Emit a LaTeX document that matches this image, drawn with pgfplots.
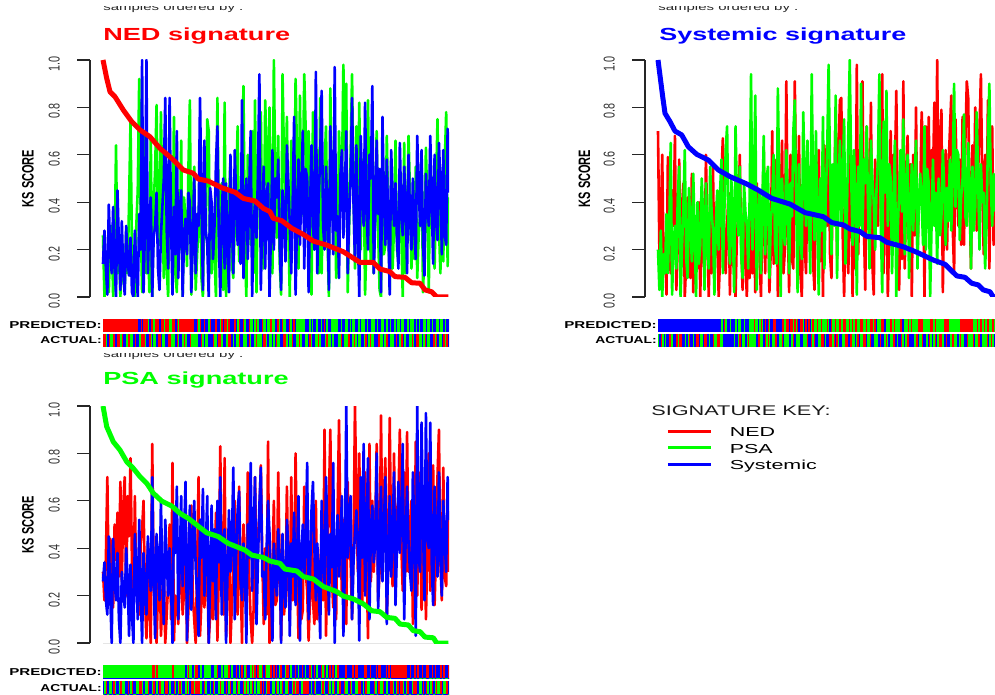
\documentclass[border=0pt]{standalone}
\usepackage{pgfplots}
\usepackage{pgfplotstable}
\usepackage{fontspec}
\setmainfont{Liberation Sans}
\pgfplotsset{compat=1.18}
\definecolor{g}{rgb}{0,1,0}
\definecolor{r}{rgb}{1,0,0}
\definecolor{b}{rgb}{0,0,1}
% noisy series, one column each
\pgfplotstableread[row sep=\\]{
0.26\\0.00\\0.12\\0.18\\0.02\\0.22\\0.30\\0.00\\0.15\\0.64\\0.10\\0.25\\0.00\\0.24\\0.08\\0.03\\0.28\\0.10\\0.40\\0.74\\0.20\\0.12\\0.00\\0.30\\0.45\\0.92\\0.35\\0.02\\0.68\\0.15\\0.10\\0.30\\0.02\\0.68\\0.00\\0.38\\0.54\\0.81\\0.26\\0.22\\0.78\\0.40\\0.08\\0.50\\0.12\\0.00\\0.60\\0.30\\0.18\\0.76\\0.10\\0.02\\0.45\\0.20\\0.66\\0.00\\0.42\\0.32\\0.13\\0.55\\0.83\\0.01\\0.34\\0.55\\0.03\\0.18\\0.30\\0.60\\0.08\\0.00\\0.44\\0.25\\0.75\\0.70\\0.12\\0.10\\0.32\\0.18\\0.00\\0.84\\0.30\\0.25\\0.48\\0.03\\0.82\\0.00\\0.22\\0.40\\0.58\\0.14\\0.08\\0.30\\0.50\\0.72\\0.15\\0.36\\0.52\\0.89\\0.20\\0.00\\0.60\\0.44\\0.22\\0.70\\0.10\\0.83\\0.02\\0.56\\0.46\\0.78\\0.25\\0.12\\0.83\\0.62\\0.30\\0.80\\0.38\\0.10\\1.00\\0.48\\0.25\\0.68\\0.15\\0.01\\0.94\\0.58\\0.40\\0.76\\0.28\\0.00\\0.66\\0.45\\0.30\\0.92\\0.60\\0.12\\0.85\\0.34\\0.48\\0.94\\0.70\\0.28\\0.70\\0.52\\0.01\\0.78\\0.20\\0.35\\0.62\\0.10\\0.84\\0.10\\0.46\\0.55\\0.72\\0.26\\0.00\\0.88\\0.40\\0.30\\0.64\\0.08\\0.15\\0.70\\0.50\\0.48\\0.98\\0.62\\0.90\\0.02\\0.30\\0.60\\0.94\\0.44\\0.12\\0.72\\0.36\\0.82\\0.20\\0.58\\0.55\\0.01\\0.25\\0.83\\0.35\\0.14\\0.62\\0.10\\0.40\\0.70\\0.28\\0.03\\0.00\\0.58\\0.18\\0.22\\0.68\\0.34\\0.03\\0.42\\0.12\\0.30\\0.66\\0.20\\0.15\\0.52\\0.28\\0.00\\0.65\\0.10\\0.30\\0.68\\0.44\\0.12\\0.40\\0.16\\0.55\\0.08\\0.26\\0.35\\0.60\\0.02\\0.20\\0.63\\0.38\\0.02\\0.62\\0.40\\0.28\\0.12\\0.46\\0.75\\0.30\\0.10\\0.48\\0.15\\0.56\\0.78\\0.13\\0.42\\
}\GOne
\pgfplotstableread[row sep=\\]{
0.14\\0.28\\0.12\\0.01\\0.39\\0.20\\0.10\\0.38\\0.14\\0.00\\0.45\\0.22\\0.03\\0.32\\0.10\\0.01\\0.30\\0.15\\0.09\\0.25\\0.02\\0.00\\0.28\\0.12\\0.00\\0.35\\0.20\\1.00\\0.02\\0.30\\1.00\\0.10\\0.34\\0.42\\0.00\\0.25\\0.30\\0.44\\0.12\\0.03\\0.26\\0.38\\0.50\\0.84\\0.28\\0.12\\0.84\\0.30\\0.01\\0.38\\0.18\\0.70\\0.08\\0.36\\0.45\\0.00\\0.26\\0.33\\0.18\\0.44\\0.40\\0.02\\0.22\\0.52\\0.10\\0.35\\0.30\\0.84\\0.42\\0.03\\0.66\\0.28\\0.22\\0.00\\0.46\\0.40\\0.16\\0.30\\0.56\\0.72\\0.24\\0.00\\0.35\\0.50\\0.12\\0.48\\0.20\\0.02\\0.60\\0.34\\0.10\\0.62\\0.40\\0.22\\0.45\\0.14\\0.83\\0.08\\0.38\\0.50\\0.16\\0.46\\0.70\\0.00\\0.30\\0.40\\0.25\\0.52\\0.94\\0.03\\0.34\\0.55\\0.12\\0.44\\0.48\\0.00\\0.28\\0.62\\0.20\\0.50\\0.42\\0.58\\0.22\\0.03\\0.45\\0.36\\0.15\\0.64\\0.48\\0.30\\0.10\\0.40\\0.76\\0.01\\0.32\\0.58\\0.22\\0.46\\0.70\\0.12\\0.54\\0.50\\0.02\\0.38\\0.64\\0.30\\0.20\\0.95\\0.10\\0.42\\0.60\\0.87\\0.30\\0.20\\0.55\\0.36\\0.03\\0.72\\0.48\\0.18\\0.97\\0.28\\0.34\\0.08\\0.52\\0.62\\0.25\\0.44\\0.70\\0.10\\0.34\\0.50\\0.84\\0.40\\0.15\\0.64\\0.26\\0.00\\0.68\\0.46\\0.30\\0.82\\0.38\\0.20\\0.60\\0.50\\0.89\\0.10\\0.32\\0.66\\0.35\\0.54\\0.02\\0.76\\0.42\\0.22\\0.58\\0.30\\0.01\\0.62\\0.44\\0.30\\0.48\\0.24\\0.12\\0.65\\0.36\\0.26\\0.55\\0.40\\0.10\\0.60\\0.34\\0.20\\0.50\\0.28\\0.16\\0.68\\0.46\\0.30\\0.62\\0.22\\0.09\\0.52\\0.38\\0.30\\0.68\\0.42\\0.14\\0.60\\0.32\\0.24\\0.65\\0.48\\0.18\\0.62\\0.26\\0.22\\0.71\\0.44\\
}\BOne
\pgfplotstableread[row sep=\\]{
0.70\\0.18\\0.32\\0.60\\0.12\\0.25\\0.01\\0.59\\0.20\\0.10\\0.45\\0.30\\0.68\\0.03\\0.22\\0.58\\0.14\\0.38\\0.48\\0.00\\0.15\\0.42\\0.22\\0.08\\0.52\\0.02\\0.28\\0.32\\0.12\\0.40\\0.00\\0.45\\0.18\\0.10\\0.60\\0.26\\0.00\\0.38\\0.10\\0.55\\0.08\\0.30\\0.42\\0.00\\0.16\\0.52\\0.67\\0.20\\0.10\\0.30\\0.44\\0.01\\0.45\\0.14\\0.12\\0.00\\0.28\\0.34\\0.60\\0.22\\0.03\\0.40\\0.16\\0.00\\0.28\\0.08\\0.55\\0.10\\0.36\\0.02\\0.48\\0.24\\0.18\\0.00\\0.30\\0.62\\0.10\\0.42\\0.35\\0.02\\0.20\\0.70\\0.14\\0.34\\0.58\\0.00\\0.26\\0.40\\0.66\\0.10\\0.20\\0.91\\0.32\\0.02\\0.60\\0.16\\0.12\\0.91\\0.44\\0.28\\0.68\\0.10\\0.00\\0.42\\0.22\\0.10\\0.55\\0.36\\0.20\\0.72\\0.14\\0.03\\0.45\\0.28\\0.62\\0.15\\0.50\\0.00\\0.64\\0.34\\0.30\\0.78\\0.18\\0.08\\0.52\\0.42\\0.80\\0.16\\0.60\\0.83\\0.84\\0.26\\0.00\\0.38\\0.20\\0.10\\0.66\\0.44\\0.00\\0.44\\0.12\\0.98\\0.18\\0.50\\0.60\\0.91\\0.30\\0.03\\0.72\\0.46\\0.25\\0.82\\0.14\\0.01\\0.58\\0.36\\0.30\\0.76\\0.54\\0.94\\0.10\\0.40\\0.46\\0.00\\0.28\\0.70\\0.20\\0.60\\0.52\\0.87\\0.34\\0.03\\0.40\\0.16\\0.91\\0.12\\0.48\\0.68\\0.30\\0.56\\0.00\\0.60\\0.26\\0.80\\0.15\\0.44\\0.45\\0.78\\0.58\\0.00\\0.72\\0.38\\0.76\\0.24\\0.62\\0.50\\0.82\\0.34\\1.00\\0.30\\0.64\\0.79\\0.02\\0.42\\0.62\\0.20\\0.54\\0.70\\0.85\\0.30\\0.10\\0.75\\0.48\\0.30\\0.58\\0.22\\0.76\\0.22\\0.66\\0.91\\0.84\\0.40\\0.12\\0.64\\0.36\\0.80\\0.28\\0.52\\0.70\\0.94\\0.46\\0.18\\0.60\\0.30\\0.83\\0.12\\0.56\\0.72\\0.22\\0.48\\
}\RTwo
\pgfplotstableread[row sep=\\]{
0.20\\0.03\\0.28\\0.00\\0.18\\0.10\\0.35\\0.10\\0.30\\0.65\\0.01\\0.22\\0.30\\0.12\\0.42\\0.55\\0.00\\0.20\\0.38\\0.62\\0.16\\0.08\\0.46\\0.30\\0.15\\0.52\\0.26\\0.00\\0.40\\0.14\\0.22\\0.50\\0.34\\0.03\\0.48\\0.22\\0.12\\0.55\\0.36\\0.28\\0.01\\0.30\\0.45\\0.20\\0.44\\0.58\\0.10\\0.34\\0.62\\0.72\\0.26\\0.14\\0.50\\0.32\\0.02\\0.72\\0.40\\0.26\\0.55\\0.18\\0.08\\0.48\\0.36\\0.30\\0.12\\0.42\\0.94\\0.20\\0.46\\0.85\\0.03\\0.30\\0.44\\0.10\\0.38\\0.68\\0.18\\0.50\\0.55\\0.08\\0.32\\0.40\\0.60\\0.22\\0.14\\0.88\\0.48\\0.00\\0.50\\0.28\\0.22\\0.62\\0.44\\0.10\\0.48\\0.34\\0.70\\0.83\\0.40\\0.02\\0.56\\0.26\\0.16\\0.78\\0.50\\0.30\\0.66\\0.36\\0.10\\0.94\\0.46\\0.24\\0.70\\0.32\\0.01\\0.50\\0.28\\0.76\\0.12\\0.42\\0.62\\0.98\\0.54\\0.18\\0.56\\0.30\\0.85\\0.08\\0.44\\0.66\\0.30\\0.48\\0.75\\0.14\\0.36\\0.70\\1.00\\0.52\\0.22\\0.62\\0.42\\0.01\\0.55\\0.30\\0.90\\0.26\\0.58\\0.48\\0.72\\0.36\\0.12\\0.66\\0.50\\0.40\\0.20\\0.46\\0.58\\0.94\\0.32\\0.02\\0.74\\0.44\\0.87\\0.30\\0.56\\0.50\\0.10\\0.38\\0.66\\0.00\\0.28\\0.44\\0.62\\0.36\\0.75\\0.18\\0.46\\0.60\\0.08\\0.34\\0.56\\0.28\\0.50\\0.66\\0.12\\0.40\\0.52\\0.40\\0.22\\0.72\\0.20\\0.54\\0.48\\0.00\\0.30\\0.58\\0.30\\0.44\\0.14\\0.50\\0.26\\0.34\\0.62\\0.46\\0.22\\0.46\\0.32\\0.58\\0.28\\0.50\\0.90\\0.38\\0.62\\0.60\\0.24\\0.42\\0.50\\0.77\\0.34\\0.30\\0.65\\0.46\\0.12\\0.55\\0.28\\0.38\\0.78\\0.52\\0.20\\0.56\\0.40\\0.44\\0.12\\0.30\\0.66\\0.90\\0.48\\0.30\\0.52\\0.36\\
}\GTwo
\pgfplotstableread[row sep=\\]{
0.30\\0.18\\0.36\\0.70\\0.22\\0.44\\0.40\\0.15\\0.50\\0.35\\0.55\\0.28\\0.68\\0.26\\0.58\\0.70\\0.20\\0.62\\0.45\\0.78\\0.34\\0.10\\0.62\\0.24\\0.30\\0.12\\0.42\\0.48\\0.60\\0.18\\0.02\\0.42\\0.14\\0.00\\0.84\\0.26\\0.15\\0.00\\0.22\\0.40\\0.03\\0.16\\0.30\\0.00\\0.12\\0.25\\0.50\\0.10\\0.76\\0.01\\0.20\\0.18\\0.08\\0.28\\0.40\\0.12\\0.22\\0.62\\0.00\\0.14\\0.28\\0.58\\0.20\\0.10\\0.00\\0.32\\0.70\\0.03\\0.18\\0.44\\0.15\\0.26\\0.32\\0.00\\0.12\\0.36\\0.10\\0.24\\0.55\\0.01\\0.30\\0.83\\0.20\\0.12\\0.78\\0.03\\0.28\\0.44\\0.00\\0.16\\0.35\\0.60\\0.22\\0.12\\0.66\\0.30\\0.00\\0.50\\0.18\\0.22\\0.72\\0.26\\0.10\\0.00\\0.14\\0.70\\0.28\\0.40\\0.55\\0.75\\0.36\\0.08\\0.40\\0.12\\0.85\\0.00\\0.22\\0.30\\0.60\\0.16\\0.18\\0.72\\0.34\\0.01\\0.36\\0.12\\0.20\\0.66\\0.24\\0.10\\0.70\\0.18\\0.25\\0.80\\0.34\\0.02\\0.42\\0.10\\0.14\\0.66\\0.30\\0.22\\0.01\\0.20\\0.52\\0.18\\0.08\\0.60\\0.10\\0.26\\0.32\\0.45\\0.18\\0.90\\0.03\\0.36\\0.60\\0.90\\0.28\\0.15\\0.40\\0.10\\0.55\\0.94\\0.46\\0.20\\0.52\\0.24\\0.08\\0.68\\0.36\\0.35\\0.10\\0.40\\1.00\\0.62\\0.30\\0.80\\0.22\\0.16\\0.48\\0.72\\0.38\\0.02\\0.84\\0.26\\0.60\\0.30\\0.48\\0.84\\0.18\\0.30\\0.96\\0.35\\0.62\\0.78\\0.10\\0.34\\0.95\\0.40\\0.24\\0.80\\0.26\\0.56\\0.60\\0.90\\0.42\\0.22\\0.72\\0.30\\0.89\\0.30\\0.46\\0.60\\0.08\\0.20\\0.85\\0.20\\0.50\\0.72\\0.14\\0.30\\0.64\\0.10\\0.38\\0.80\\0.22\\0.44\\0.75\\0.16\\0.40\\0.70\\0.90\\0.34\\0.18\\0.74\\0.28\\0.24\\0.57\\0.30\\
}\RThree
\pgfplotstableread[row sep=\\]{
0.26\\0.34\\0.18\\0.12\\0.45\\0.20\\0.00\\0.44\\0.26\\0.18\\0.38\\0.10\\0.00\\0.30\\0.22\\0.15\\0.40\\0.28\\0.03\\0.33\\0.12\\0.00\\0.46\\0.30\\0.10\\0.52\\0.24\\0.00\\0.38\\0.20\\0.12\\0.45\\0.32\\0.22\\0.70\\0.26\\0.02\\0.46\\0.34\\0.18\\0.60\\0.28\\0.08\\0.52\\0.36\\0.20\\0.40\\0.24\\0.00\\0.56\\0.38\\0.66\\0.10\\0.34\\0.62\\0.24\\0.46\\0.68\\0.01\\0.30\\0.58\\0.14\\0.42\\0.60\\0.32\\0.20\\0.03\\0.52\\0.36\\0.65\\0.20\\0.40\\0.62\\0.00\\0.28\\0.58\\0.26\\0.48\\0.10\\0.60\\0.34\\0.70\\0.12\\0.44\\0.48\\0.00\\0.30\\0.56\\0.30\\0.42\\0.74\\0.10\\0.38\\0.56\\0.64\\0.26\\0.18\\0.42\\0.32\\0.00\\0.50\\0.36\\0.76\\0.22\\0.46\\0.70\\0.08\\0.34\\0.58\\0.74\\0.28\\0.30\\0.10\\0.40\\0.60\\0.46\\0.24\\0.01\\0.42\\0.30\\0.20\\0.48\\0.36\\0.00\\0.46\\0.22\\0.15\\0.52\\0.40\\0.03\\0.42\\0.28\\0.55\\0.16\\0.34\\0.62\\0.01\\0.38\\0.50\\0.28\\0.44\\0.76\\0.10\\0.30\\0.56\\0.68\\0.40\\0.18\\0.42\\0.26\\0.02\\0.60\\0.34\\0.24\\0.70\\0.46\\0.12\\0.46\\0.32\\0.76\\0.00\\0.38\\0.54\\0.28\\0.44\\0.62\\0.03\\0.30\\1.00\\0.36\\0.50\\0.62\\0.10\\0.34\\0.46\\0.56\\0.40\\0.01\\0.70\\0.36\\0.84\\0.20\\0.44\\0.78\\0.10\\0.48\\0.58\\0.34\\0.42\\0.80\\0.14\\0.38\\0.66\\0.26\\0.50\\0.70\\0.08\\0.36\\0.62\\0.28\\0.46\\0.72\\0.16\\0.40\\0.68\\0.38\\0.54\\0.84\\0.10\\0.44\\0.66\\0.42\\0.30\\0.22\\0.72\\0.48\\0.03\\1.00\\0.36\\0.30\\0.93\\0.50\\0.18\\0.97\\0.44\\0.40\\0.93\\0.34\\0.16\\0.66\\0.46\\0.28\\0.72\\0.38\\0.20\\0.60\\0.42\\0.30\\0.70\\0.52\\
}\BThree
% colour strips: 0 red, 1 green, 2 blue
\pgfplotstableread[row sep=\\]{
0\\0\\0\\0\\0\\0\\0\\0\\0\\0\\0\\0\\0\\0\\0\\0\\0\\0\\0\\0\\0\\0\\0\\0\\2\\2\\0\\2\\0\\0\\0\\1\\2\\0\\0\\1\\0\\0\\0\\2\\0\\0\\1\\0\\0\\0\\1\\1\\0\\0\\2\\0\\1\\0\\0\\0\\0\\0\\0\\0\\0\\0\\0\\2\\2\\0\\1\\0\\2\\2\\0\\2\\2\\1\\0\\2\\2\\2\\0\\2\\2\\1\\0\\2\\0\\0\\1\\0\\2\\2\\2\\0\\2\\1\\0\\2\\2\\0\\1\\2\\2\\0\\1\\1\\2\\1\\0\\1\\2\\2\\0\\1\\1\\2\\1\\1\\0\\1\\1\\2\\2\\0\\1\\2\\0\\1\\1\\2\\2\\0\\1\\2\\0\\2\\1\\1\\1\\1\\1\\1\\2\\2\\2\\1\\2\\1\\2\\2\\1\\2\\2\\1\\2\\0\\2\\1\\2\\2\\1\\1\\1\\1\\1\\2\\2\\1\\2\\2\\1\\1\\2\\1\\2\\1\\1\\2\\2\\1\\2\\1\\1\\1\\2\\1\\2\\2\\1\\1\\1\\2\\1\\2\\2\\1\\1\\2\\1\\1\\2\\1\\2\\2\\1\\2\\1\\1\\2\\1\\1\\2\\2\\1\\2\\1\\1\\1\\2\\1\\2\\1\\2\\2\\1\\1\\2\\1\\1\\2\\1\\2\\2\\1\\1\\2\\1\\1\\2\\1\\2\\2\\1\\2\\1\\1\\
}\SPOne
\pgfplotstableread[row sep=\\]{
0\\0\\1\\2\\0\\1\\1\\0\\2\\2\\0\\0\\1\\0\\2\\2\\1\\0\\0\\1\\1\\2\\0\\2\\2\\1\\0\\0\\0\\1\\2\\2\\0\\1\\2\\1\\1\\2\\0\\0\\2\\1\\1\\2\\2\\0\\0\\1\\1\\1\\2\\0\\1\\2\\2\\1\\0\\1\\2\\2\\0\\1\\1\\1\\1\\1\\2\\2\\0\\1\\2\\1\\1\\2\\2\\2\\0\\1\\1\\2\\0\\0\\1\\2\\2\\1\\1\\0\\0\\2\\1\\2\\1\\1\\0\\2\\2\\1\\1\\1\\2\\0\\1\\2\\2\\1\\0\\1\\1\\1\\2\\0\\0\\1\\2\\1\\1\\2\\1\\2\\0\\1\\1\\2\\2\\0\\0\\1\\2\\1\\1\\0\\2\\2\\1\\1\\0\\1\\2\\2\\1\\1\\2\\0\\1\\2\\2\\1\\1\\0\\1\\2\\2\\2\\1\\0\\1\\1\\2\\1\\2\\2\\2\\1\\1\\0\\2\\1\\1\\1\\0\\2\\2\\1\\0\\1\\2\\1\\1\\2\\2\\1\\0\\2\\1\\0\\1\\1\\2\\2\\2\\0\\1\\1\\2\\1\\0\\0\\2\\1\\1\\1\\2\\0\\2\\1\\1\\0\\2\\1\\2\\2\\1\\1\\0\\1\\2\\0\\0\\1\\1\\2\\1\\0\\2\\1\\1\\2\\2\\0\\1\\0\\2\\1\\1\\2\\0\\1\\0\\2\\0\\1\\
}\SAOne
\pgfplotstableread[row sep=\\]{
2\\2\\2\\2\\2\\2\\2\\2\\2\\2\\2\\2\\2\\2\\2\\2\\2\\2\\2\\2\\2\\2\\2\\2\\2\\2\\2\\2\\2\\2\\2\\2\\2\\2\\2\\2\\2\\2\\2\\2\\2\\2\\2\\2\\2\\1\\2\\0\\1\\2\\2\\1\\2\\2\\2\\1\\2\\1\\1\\2\\2\\1\\2\\2\\2\\1\\1\\1\\0\\1\\1\\2\\1\\0\\1\\2\\0\\2\\0\\1\\2\\2\\0\\0\\2\\2\\2\\2\\0\\0\\1\\0\\0\\2\\0\\0\\1\\0\\1\\0\\2\\0\\0\\1\\2\\0\\2\\0\\2\\1\\0\\1\\1\\0\\1\\1\\0\\1\\1\\1\\0\\1\\2\\0\\1\\1\\0\\1\\1\\0\\1\\1\\0\\0\\1\\1\\0\\1\\0\\1\\0\\0\\1\\1\\0\\0\\1\\1\\0\\1\\1\\0\\0\\1\\0\\2\\1\\1\\1\\0\\0\\2\\1\\1\\1\\0\\0\\1\\0\\1\\1\\1\\0\\0\\2\\1\\1\\1\\0\\1\\0\\1\\1\\1\\1\\0\\0\\0\\0\\1\\1\\1\\1\\1\\0\\0\\1\\0\\1\\1\\1\\1\\1\\1\\0\\0\\0\\1\\1\\1\\1\\1\\1\\1\\1\\0\\0\\0\\0\\0\\0\\0\\0\\0\\1\\1\\1\\0\\1\\0\\0\\1\\0\\1\\0\\0\\1\\1\\0\\1\\0\\1\\0\\
}\SPTwo
\pgfplotstableread[row sep=\\]{
1\\2\\0\\1\\2\\1\\2\\2\\0\\1\\1\\2\\2\\0\\1\\0\\0\\2\\2\\1\\2\\1\\0\\2\\2\\1\\2\\0\\0\\2\\1\\1\\2\\0\\0\\2\\1\\2\\2\\0\\1\\1\\0\\0\\1\\1\\2\\2\\2\\2\\2\\2\\2\\2\\1\\2\\2\\1\\0\\2\\1\\1\\2\\1\\0\\1\\1\\1\\1\\1\\2\\0\\0\\1\\1\\2\\0\\1\\0\\1\\2\\1\\1\\0\\0\\2\\1\\1\\0\\2\\1\\1\\1\\2\\2\\1\\0\\2\\1\\1\\1\\2\\2\\1\\1\\1\\0\\2\\2\\0\\1\\0\\2\\2\\1\\1\\0\\0\\2\\1\\2\\2\\0\\0\\1\\0\\2\\0\\1\\2\\2\\1\\1\\0\\0\\2\\2\\0\\1\\1\\2\\1\\0\\2\\1\\1\\0\\0\\2\\1\\1\\0\\2\\2\\1\\1\\1\\2\\0\\2\\2\\1\\0\\1\\2\\1\\1\\0\\0\\2\\1\\2\\2\\0\\1\\2\\1\\0\\0\\2\\2\\2\\1\\1\\0\\2\\1\\1\\0\\2\\2\\1\\2\\0\\1\\2\\1\\0\\2\\1\\0\\0\\1\\1\\2\\0\\2\\2\\1\\0\\0\\1\\1\\2\\1\\0\\1\\1\\2\\2\\0\\1\\1\\1\\0\\2\\1\\1\\0\\2\\2\\1\\1\\1\\0\\2\\1\\0\\1\\2\\1\\2\\
}\SATwo
\pgfplotstableread[row sep=\\]{
1\\1\\1\\1\\1\\1\\1\\1\\1\\1\\1\\1\\1\\1\\1\\1\\1\\1\\1\\1\\1\\1\\1\\1\\1\\1\\1\\1\\1\\1\\1\\1\\1\\1\\0\\0\\1\\0\\1\\1\\1\\1\\1\\1\\1\\1\\1\\1\\0\\1\\1\\1\\1\\1\\1\\1\\1\\2\\1\\0\\1\\1\\2\\1\\0\\0\\2\\1\\1\\2\\1\\1\\1\\1\\1\\2\\2\\1\\1\\0\\2\\2\\1\\2\\1\\1\\1\\0\\2\\1\\2\\2\\0\\2\\1\\2\\0\\2\\1\\0\\2\\2\\1\\0\\1\\0\\2\\0\\1\\1\\0\\2\\0\\1\\1\\1\\0\\2\\0\\2\\0\\2\\1\\0\\2\\2\\1\\0\\0\\2\\1\\2\\2\\0\\2\\1\\2\\2\\0\\2\\1\\2\\2\\0\\1\\2\\0\\2\\1\\2\\2\\0\\1\\0\\2\\1\\2\\0\\2\\0\\2\\1\\0\\0\\2\\2\\2\\2\\0\\2\\2\\2\\2\\0\\2\\0\\0\\2\\2\\2\\2\\0\\0\\2\\2\\0\\2\\2\\2\\0\\2\\0\\0\\2\\2\\2\\0\\2\\0\\2\\0\\0\\0\\0\\0\\0\\0\\0\\0\\0\\0\\2\\2\\0\\2\\2\\0\\2\\0\\2\\2\\0\\2\\2\\0\\0\\2\\2\\0\\2\\0\\2\\2\\2\\0\\2\\0\\2\\2\\0\\2\\2\\2\\
}\SPThree
\pgfplotstableread[row sep=\\]{
2\\1\\0\\2\\1\\1\\2\\0\\1\\2\\2\\1\\0\\1\\1\\2\\2\\0\\2\\1\\0\\2\\2\\1\\1\\0\\0\\1\\2\\1\\1\\0\\2\\2\\1\\0\\2\\1\\2\\0\\1\\1\\2\\0\\0\\2\\1\\2\\2\\0\\1\\2\\1\\0\\1\\2\\2\\1\\0\\1\\2\\0\\0\\1\\0\\0\\0\\1\\1\\2\\0\\1\\2\\2\\1\\2\\0\\1\\2\\2\\1\\0\\1\\1\\2\\0\\2\\1\\0\\2\\1\\1\\2\\0\\1\\2\\2\\0\\1\\0\\1\\2\\1\\0\\2\\1\\2\\1\\1\\0\\2\\0\\2\\1\\0\\0\\2\\1\\1\\2\\0\\1\\2\\1\\0\\2\\1\\1\\0\\2\\2\\1\\0\\1\\0\\0\\2\\1\\1\\0\\0\\0\\0\\2\\1\\2\\0\\1\\2\\2\\2\\1\\0\\1\\2\\2\\0\\1\\2\\1\\0\\2\\1\\1\\0\\2\\2\\0\\1\\1\\2\\0\\1\\2\\2\\1\\1\\0\\0\\2\\1\\2\\0\\1\\1\\2\\2\\2\\0\\1\\2\\0\\1\\1\\0\\2\\1\\1\\2\\0\\0\\1\\2\\1\\0\\2\\0\\0\\1\\2\\1\\0\\2\\2\\1\\0\\0\\0\\2\\1\\1\\2\\0\\2\\0\\1\\2\\1\\0\\2\\1\\0\\1\\1\\0\\2\\1\\1\\0\\2\\1\\0\\
}\SAThree

\pgfplotsset{
  ks/.style={
    scale only axis, clip=true, height=237pt,
    ymin=0, ymax=1, axis y line=left, axis x line=none,
    y axis line style={-, line width=1.4pt, black!85},
    ytick={0,0.2,0.4,0.6,0.8,1},
    yticklabels={0.0,0.2,0.4,0.6,0.8,1.0},
    xtick=\empty, tick align=outside, major tick length=13pt,
    ytick style={line width=1.1pt, black!85},
    yticklabel style={font=\fontsize{10.8}{12}\selectfont, black!80, xscale=1.45, rotate=90, anchor=south, inner sep=0pt, xshift=-4pt, yshift=11.7pt},
    ylabel={\textbf{KS SCORE}},
    ylabel style={at={(axis description cs:-0.173,0.5)}, anchor=center, rotate=-90, xscale=1.5, rotate=90, font=\fontsize{11}{12}\selectfont, inner sep=0pt},
  },
  noisy/.style={line width=2.6pt, line join=round, no marks},
  curve/.style={line width=5pt, line join=round, no marks},
  base/.style={line width=0.8pt, black!10, no marks},
}
\newcommand{\strip}[5]{%
  \begin{axis}[scale only axis, hide axis, at={(#1pt,#2pt)}, anchor=south west,
    width=#3pt, height=13pt, xmin=0, xmax=240, ymin=0, ymax=1, clip=true]
    \addplot[ycomb, no marks, line width=#5pt, r] table[x index=0, y index=0, x expr=\coordindex+0.5, y expr={\thisrowno{0}==0?1:-1}] {#4};
    \addplot[ycomb, no marks, line width=#5pt, g] table[x index=0, y index=0, x expr=\coordindex+0.5, y expr={\thisrowno{0}==1?1:-1}] {#4};
    \addplot[ycomb, no marks, line width=#5pt, b] table[x index=0, y index=0, x expr=\coordindex+0.5, y expr={\thisrowno{0}==2?1:-1}] {#4};
  \end{axis}}
\newcommand{\wide}[2]{\scalebox{#1}[1]{#2}}
\begin{document}
\begin{tikzpicture}[x=1pt,y=1pt]
\useasboundingbox (0,0) rectangle (995,694);
\clip (0,0) rectangle (995,694);
% ---------- NED
\begin{axis}[ks, at={(90pt,397pt)}, anchor=south west, width=359pt, xmin=-13, xmax=346,
  title={\textbf{NED signature}},
  title style={at={(axis description cs:0.0362,1.059)}, anchor=base west, r, xscale=1.55, font=\fontsize{17.5}{18}\selectfont, inner sep=0pt}]
  \addplot[base] coordinates {(0,0)(346,0)};
  \addplot[noisy,g] table[x expr=\coordindex*1.448, y index=0] {\GOne};
  \addplot[noisy,b] table[x expr=\coordindex*1.448, y index=0] {\BOne};
  \addplot[curve,r] coordinates {(0,1.0)(3.7,.923)(7,.866)(12,.845)(20.3,.789)(28.7,.74)(37,.705)(47,.676)(57,.627)(68.7,.585)(80.3,.536)(90.3,.522)(95.3,.498)(105.3,.489)(118.7,.461)(132,.442)(140.3,.416)(152,.405)(160.3,.374)(167,.36)(170.3,.332)(178.7,.322)(188.7,.29)(200.3,.264)(210.3,.236)(223.7,.219)(240.3,.191)(257,.146)(270.3,.146)(277,.118)(287,.107)(292,.086)(302,.083)(308.7,.06)(317,.058)(322,.03)(328.7,.022)(333.7,0)(345.3,0)};
\end{axis}
% ---------- Systemic
\begin{axis}[ks, at={(645pt,397pt)}, anchor=south west, width=350pt, xmin=-13, xmax=337,
  title={\textbf{Systemic signature}},
  title style={at={(axis description cs:0.04,1.059)}, anchor=base west, b, xscale=1.54, font=\fontsize{17.5}{18}\selectfont, inner sep=0pt}]
  \addplot[base] coordinates {(0,0)(337,0)};
  \addplot[noisy,r] table[x expr=\coordindex*1.41, y index=0] {\RTwo};
  \addplot[noisy,g] table[x expr=\coordindex*1.41, y index=0] {\GTwo};
  \addplot[curve,b] coordinates {(0,1.0)(4.7,.845)(7,.775)(12,.74)(17,.70)(23.7,.684)(30.3,.634)(38.7,.602)(50.3,.578)(60.3,.536)(72,.508)(88.7,.477)(100.3,.451)(113.7,.416)(132,.392)(147,.356)(165.3,.339)(173.7,.314)(185.3,.304)(192,.287)(202,.276)(208.7,.256)(222,.25)(228.7,.231)(245.3,.212)(258.7,.189)(275.3,.156)(287,.138)(298.7,.089)(307,.083)(313.7,.058)(320.3,.051)(325.3,.03)(332,.022)(335.3,0)(337,0)};
\end{axis}
% ---------- PSA
\begin{axis}[ks, at={(90pt,51pt)}, anchor=south west, width=359pt, xmin=-13, xmax=346,
  title={\textbf{PSA signature}},
  title style={at={(axis description cs:0.0362,1.0675)}, anchor=base west, g, xscale=1.55, font=\fontsize{17.5}{18}\selectfont, inner sep=0pt}]
  \addplot[base] coordinates {(0,0)(346,0)};
  \addplot[noisy,r] table[x expr=\coordindex*1.448, y index=0] {\RThree};
  \addplot[noisy,b] table[x expr=\coordindex*1.448, y index=0] {\BThree};
  \addplot[curve,g] coordinates {(0,1.0)(3.7,.913)(10.3,.849)(17,.814)(23.7,.765)(30.3,.737)(37,.702)(43.7,.674)(50.3,.632)(58.7,.599)(68.7,.578)(77,.547)(85.3,.526)(93.7,.498)(103.7,.465)(115.3,.449)(125.3,.42)(142,.392)(148.7,.371)(160.3,.361)(167,.346)(177,.336)(182,.312)(193.7,.304)(200.3,.28)(210.3,.27)(220.3,.238)(233.7,.217)(240.3,.198)(250.3,.186)(260.3,.165)(268.7,.136)(277,.132)(283.7,.108)(292,.104)(297,.08)(305.3,.076)(310.3,.052)(317,.048)(322,.025)(330.3,.022)(333.7,0)(345.3,0)};
\end{axis}
% ---------- strips
\strip{103}{362}{346}{\SPOne}{1.5}
\strip{103}{347}{346}{\SAOne}{1.5}
\strip{658}{362}{337}{\SPTwo}{1.46}
\strip{658}{347}{337}{\SATwo}{1.46}
\strip{103}{16}{346}{\SPThree}{1.5}
\strip{103}{0}{346}{\SAThree}{1.5}
% ---------- clipped captions
\foreach \x/\y in {103/683.5, 658/683.5, 103/336.5}
  \node[anchor=base west, inner sep=0pt, xscale=1.5, font=\fontsize{10}{11}\selectfont, black!85] at (\x,\y) {samples ordered by :};
\fill[white] (95,688) rectangle (995,694);
\fill[white] (95,340.7) rectangle (300,346.5);
% ---------- strip labels
\foreach \x/\y in {102/365.7, 657/365.7, 102/19}
  \node[anchor=base east, inner sep=0pt, xscale=1.51, font=\fontsize{10}{11}\selectfont\bfseries] at (\x,\y) {PREDICTED:};
\foreach \x/\y in {102/350.7, 657/350.7, 102/3}
  \node[anchor=base east, inner sep=0pt, xscale=1.38, font=\fontsize{10}{11}\selectfont\bfseries] at (\x,\y) {ACTUAL:};
% ---------- key
\node[anchor=base west, inner sep=0pt, xscale=1.55, font=\fontsize{14}{15}\selectfont, black!90] at (651,279) {SIGNATURE KEY:};
\begin{axis}[hide axis, scale only axis, at={(666.5pt,222pt)}, anchor=south west, width=150pt, height=45pt, xmin=0, xmax=1, ymin=0, ymax=1,
  legend style={at={(0,1)}, anchor=north west, draw=none, fill=none, inner sep=0pt, outer sep=0pt, font=\fontsize{13}{14}\selectfont, row sep=4pt, nodes={inner sep=0pt, text height=9.5pt, text depth=3pt}},
  legend cell align=left,
  legend image code/.code={\draw[line width=2.8pt, #1] (0pt,2pt) -- (43pt,2pt);}]
  \addlegendimage{r}\addlegendentry{\hspace*{17.5pt}\wide{1.65}{NED}}
  \addlegendimage{g}\addlegendentry{\hspace*{17.5pt}\wide{1.65}{PSA}}
  \addlegendimage{b}\addlegendentry{\hspace*{17.5pt}\wide{1.65}{Systemic}}
\end{axis}
\end{tikzpicture}
\end{document}
